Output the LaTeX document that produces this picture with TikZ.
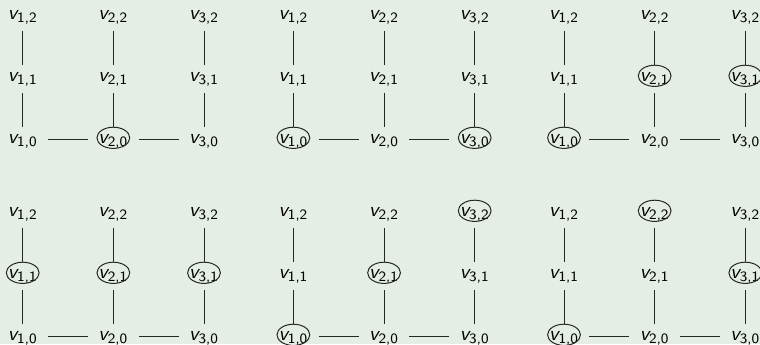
\documentclass[tikz,border=0pt]{standalone}
\usepackage{amsmath}
\definecolor{bg}{RGB}{229,238,229}
\newcommand\vlab[2]{$\text{\sffamily\itshape v}_{\text{\sffamily #1,#2}}$}
\begin{document}
\begin{tikzpicture}[x=0.5pt,y=-0.5pt,
  lbl/.style={inner xsep=5pt, inner ysep=3.75pt, text height=4.4pt, text depth=1.75pt,
              anchor=base, font=\fontsize{10.2}{12}\selectfont},
  edge/.style={line width=0.5pt, black!85},
  ring/.style={line width=0.5pt, black!85}]
\fill[bg] (0,0) rectangle (760,344);
\useasboundingbox (0,0) rectangle (760,344);
\foreach \g/\gx/\gy in {1/0/0, 2/270.7/0, 3/541.3/0, 4/0/197, 5/270.7/197, 6/541.3/197} {
  \foreach \i in {1,2,3} {
    \foreach \j/\ry in {2/19.5, 1/81.5, 0/143.5} {
      \node[lbl] (g\g-\i-\j) at ({\gx+22.7+90.65*(\i-1)}, {\gy+\ry}) {\vlab{\i}{\j}};
    }
    \draw[edge] (g\g-\i-2.south) -- (g\g-\i-1.north);
    \draw[edge] (g\g-\i-1.south) -- (g\g-\i-0.north);
  }
  \draw[edge] (g\g-1-0.mid east) -- (g\g-2-0.mid west);
  \draw[edge] (g\g-2-0.mid east) -- (g\g-3-0.mid west);
}
\foreach \n in {g1-2-0, g2-1-0, g2-3-0, g3-1-0, g3-2-1, g3-3-1, g4-1-1, g4-2-1, g4-3-1, g5-1-0, g5-2-1, g5-3-2, g6-1-0, g6-2-2, g6-3-1} {
  \draw[ring] ([yshift=2.85pt]\n.base) ellipse [x radius=8.2pt, y radius=5.3pt];
}
\end{tikzpicture}
\end{document}
